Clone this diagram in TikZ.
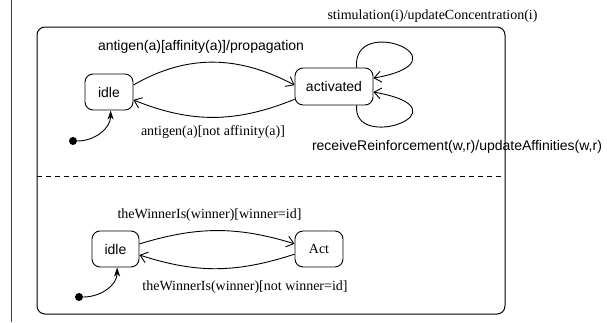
\documentclass[tikz,border=0pt]{standalone}
\usepackage{fontspec}
\setmainfont{Liberation Serif}
\setsansfont{Liberation Sans}
\usetikzlibrary{arrows.meta}
\begin{document}
\begin{tikzpicture}[x=1pt,y=-1pt,
  stbox/.style={draw, rounded corners=8pt, line width=0.9pt, minimum height=36pt, inner sep=0pt},
  sanslbl/.style={font=\sffamily\fontsize{14}{16}\selectfont, inner sep=0pt},
  seriflbl/.style={font=\rmfamily\fontsize{14}{16}\selectfont, inner sep=0pt},
  trans/.style={draw, line width=0.9pt, -{Straight Barb[length=7pt,width=11pt,line width=0.9pt]}},
  inittr/.style={draw, line width=0.9pt, -{Stealth[length=9pt,width=6pt,inset=2.5pt]}},
  initdot/.style={circle, fill, inner sep=0pt, minimum size=8pt}]
\useasboundingbox (0,0) rectangle (607,322);

% frame line at the left
\draw[line width=1pt, black!75] (11,0) -- (11,322);

% composite state
\node[draw, rounded corners=8pt, line width=1pt, minimum width=468pt, minimum height=287pt, inner sep=0pt] (comp) at (271,170.5) {};
\coordinate (dashL) at (37,176);
\coordinate (dashR) at (505,176);
\draw[line width=0.9pt, dash pattern=on 5pt off 4pt] (dashL) -- (dashR);

% upper region
\node[stbox, sanslbl, minimum width=48pt] (idleA) at (109,92) {idle};
\node[stbox, sanslbl, minimum width=78pt, minimum height=37pt] (act) at (334,86.5) {activated};
\node[initdot] (iniA) at (73,141) {};

\draw[trans] (idleA.16) to[out=30,in=152] (act.178);
\draw[trans] (act.198) to[out=202,in=-22] (idleA.-18);
\draw[inittr] (iniA) to[out=0,in=-90] (idleA.-85);
\draw[trans] (act.40) to[out=95,in=10,out distance=55pt,in distance=100pt] (act.12);
\draw[trans] (act.-40) to[out=-95,in=-10,out distance=48pt,in distance=100pt] (act.-8);

\node[seriflbl] (lStim) at (432.5,16) {stimulation(i)/updateConcentration(i)};
\node[sanslbl] (lProp) at (201,47) {antigen(a)[affinity(a)]/propagation};
\node[seriflbl] (lNot) at (213,132) {antigen(a)[not affinity(a)]};
\node[sanslbl] (lRecv) at (457,147) {receiveReinforcement(w,r)/updateAffinities(w,r)};

% lower region
\node[stbox, sanslbl, minimum width=47pt] (idleB) at (115.5,249) {idle};
\node[stbox, seriflbl, minimum width=48pt] (actB) at (319,249) {Act};
\node[initdot] (iniB) at (79,297) {};

\draw[trans] (idleB.12) to[out=17,in=163] (actB.168);
\draw[trans] (actB.192) to[out=198,in=-18] (idleB.-14);
\draw[inittr] (iniB) to[out=0,in=-90] (idleB.-85);

\node[seriflbl] (lWin) at (209.5,215) {theWinnerIs(winner)[winner=id]};
\node[seriflbl] (lNotWin) at (245,287) {theWinnerIs(winner)[not winner=id]};
\end{tikzpicture}
\end{document}
